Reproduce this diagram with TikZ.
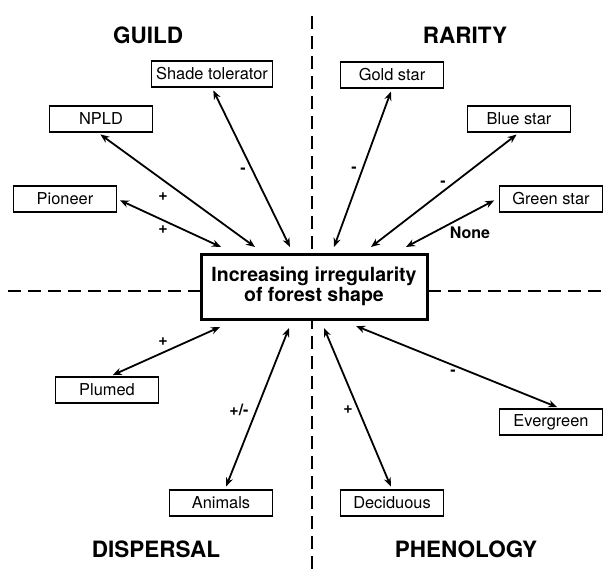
\documentclass[tikz,border=0pt]{standalone}
\usepackage{fontspec}
\setmainfont{TeX Gyre Heros}
\usetikzlibrary{arrows.meta}

\tikzset{
  factor/.style={draw, line width=0.7pt, minimum width=51.5pt, minimum height=13pt, inner sep=2pt, font=\fontsize{8.2}{10}\selectfont},
  outcome/.style={draw, fill=white, line width=1.5pt, minimum width=113pt, minimum height=32.5pt, align=center, inner sep=2pt, font=\bfseries\fontsize{9.75}{10}\selectfont},
  group/.style={font=\bfseries\fontsize{11.25}{13}\selectfont},
  sign/.style={font=\bfseries\fontsize{8}{10}\selectfont, inner sep=1pt},
  link/.style={<->, line width=0.9pt, shorten <=1.5pt},
  quad/.style={line width=0.65pt, dash pattern=on 6.5pt off 3.5pt}
}

\begin{document}
\begin{tikzpicture}[x=0.5pt, y=-0.5pt, >={Stealth[length=4.5pt,width=3.6pt]}]

\useasboundingbox (0,0) rectangle (606,573);

% quadrants
  \draw[quad] (312,16) -- (312,571);
  \draw[quad] (8,291) -- (606,291);

  \node[outcome] (shape) at (314,286.5) {Increasing irregularity\\of forest shape};

  \node[group] (guild) at (148,35) {GUILD};
  \node[group] (rarity) at (465,35) {RARITY};
  \node[group] (dispersal) at (156,549) {DISPERSAL};
  \node[group] (phenology) at (466,549) {PHENOLOGY};

% guild
  \node[factor, minimum width=60.5pt] (shade) at (212,74) {Shade tolerator};
  \node[factor] (npld) at (101,119) {NPLD};
  \node[factor] (pioneer) at (65,199) {Pioneer};
% rarity
  \node[factor] (gold) at (392,75) {Gold star};
  \node[factor] (blue) at (519,119) {Blue star};
  \node[factor] (green) at (551,199) {Green star};
% dispersal
  \node[factor] (plumed) at (107,390) {Plumed};
  \node[factor] (animals) at (221,503) {Animals};
% phenology
  \node[factor] (deciduous) at (392,503) {Deciduous};
  \node[factor] (evergreen) at (551,422) {Evergreen};

  \coordinate (inPio) at (221,247);
  \coordinate (inNpld) at (255,247);
  \coordinate (inShade) at (290,247);
  \coordinate (inGold) at (334,247);
  \coordinate (inBlue) at (371,247);
  \coordinate (inGreen) at (406,247);
  \coordinate (inPlum) at (220,327);
  \coordinate (inAnim) at (289,328);
  \coordinate (inDeci) at (324,328);
  \coordinate (inEver) at (356,326);

  \draw[link] (pioneer.east) -- (inPio);
  \draw[link] ([xshift=-1.5pt]npld.south) -- (inNpld);
  \draw[link] (shade.south) -- (inShade);
  \draw[link] (gold.south) -- (inGold);
  \draw[link] (blue.south) -- (inBlue);
  \draw[link] ([xshift=-1pt]green.west) -- (inGreen);
  \draw[link] ([xshift=1.5pt]plumed.north) -- (inPlum);
  \draw[link] ([xshift=2pt]animals.north) -- (inAnim);
  \draw[link] (deciduous.north) -- (inDeci);
  \draw[link] ([xshift=4.5pt]evergreen.north) -- (inEver);

  \node[sign] (sPio) at (163,230) {+};
  \node[sign] (sNpld) at (163,197) {+};
  \node[sign] (sShade) at (243,171) {-};
  \node[sign] (sGold) at (354,170) {-};
  \node[sign] (sBlue) at (443,184) {-};
  \node[sign] (sGreen) at (470,233) {None};
  \node[sign] (sPlum) at (163,342) {+};
  \node[sign] (sAnim) at (239,410) {+/-};
  \node[sign] (sDeci) at (348,410) {+};
  \node[sign] (sEver) at (453,373) {-};

\end{tikzpicture}
\end{document}
